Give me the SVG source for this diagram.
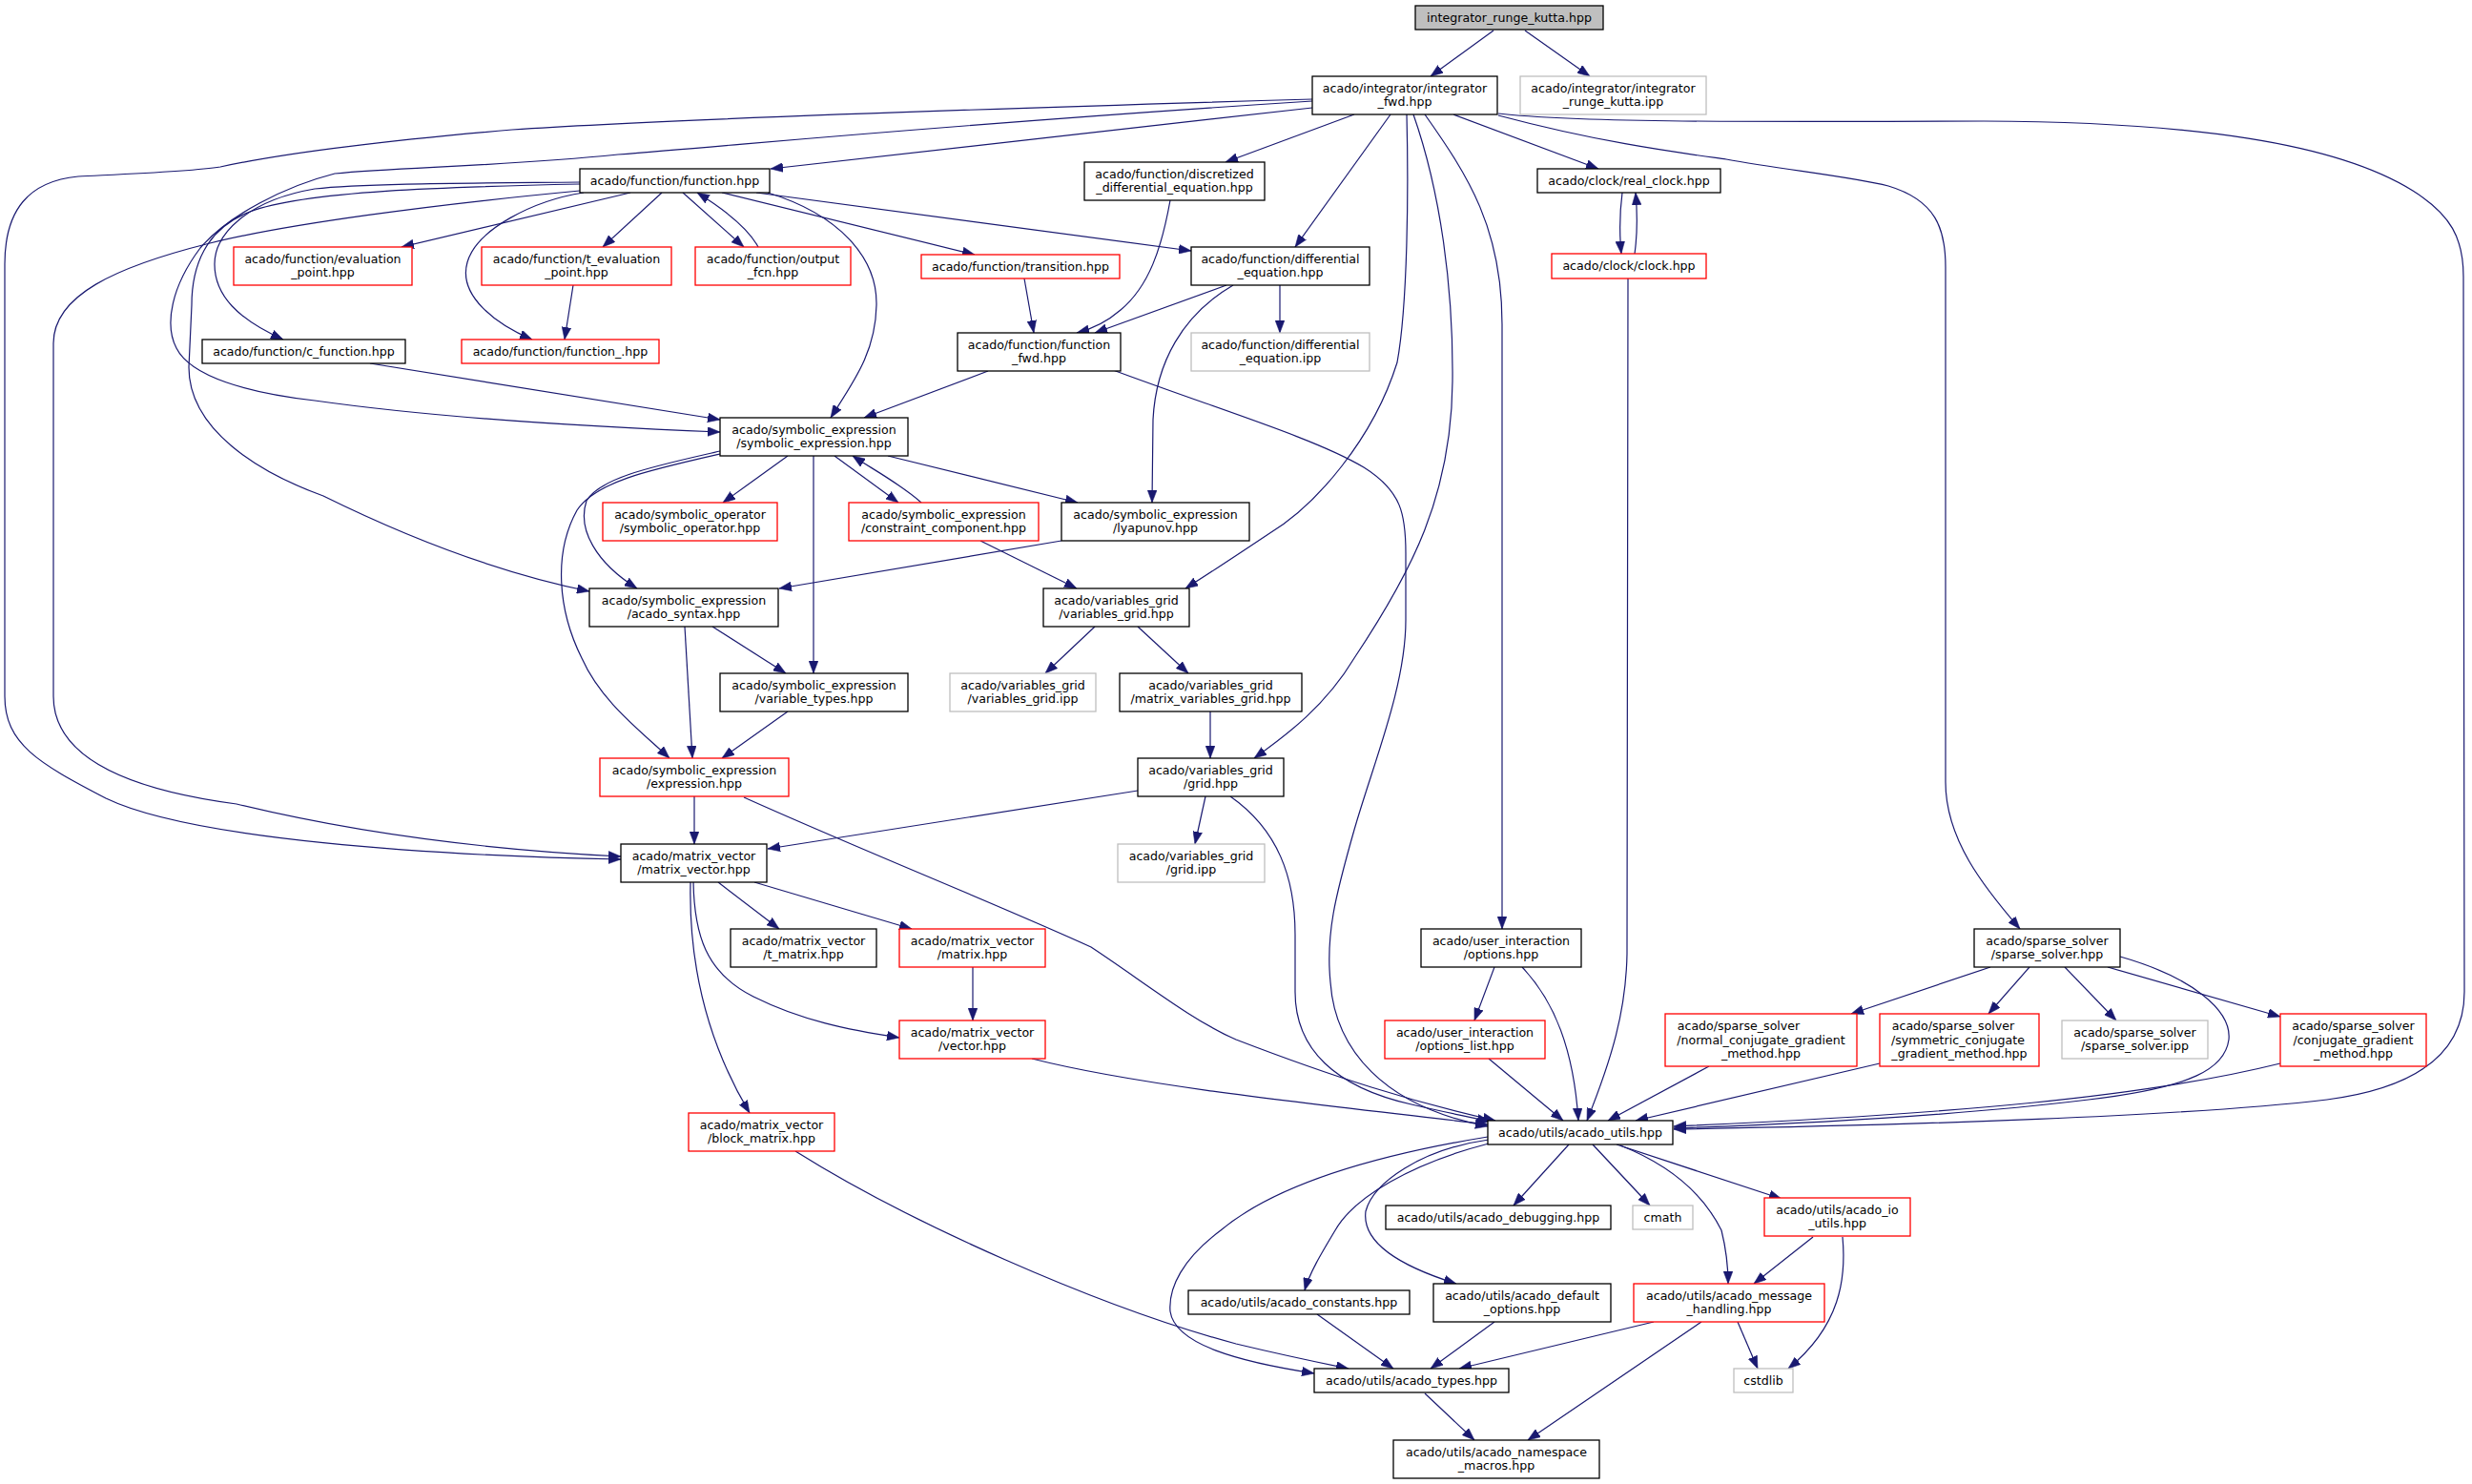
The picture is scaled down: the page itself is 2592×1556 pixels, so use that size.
<svg xmlns="http://www.w3.org/2000/svg" width="2592" height="1556" viewBox="0 0 2592 1556">
<style>
.node rect{fill:#fff;stroke:#000;stroke-width:1.3}
.node.red rect{stroke:#ff0000}
.node.gray rect{stroke:#bfbfbf}
.node.root rect{fill:#bfbfbf}
.node text{font-family:"DejaVu Sans",sans-serif;font-size:12.6px;fill:#000;text-anchor:middle}
#edges path{fill:none;stroke:#191970;stroke-width:1.2;marker-end:url(#ah)}
</style>
<defs>
<marker id="ah" markerUnits="userSpaceOnUse" markerWidth="13" markerHeight="10" viewBox="0 0 12 9" refX="12" refY="4.5" orient="auto">
<path d="M0,0 L12,4.5 L0,9 z" fill="#191970" stroke="#191970" stroke-width="0.5"/>
</marker>
</defs>
<rect width="2592" height="1556" fill="#fff"/>
<g id="edges">
<path d="M1566,32 L1500,80"/>
<path d="M1599,32 L1667,80"/>
<path d="M1376,113 L808,177"/>
<path d="M1376,104 C1000,115 700,125 537,136 C420,146 300,160 231,175 C200,180 120,183 82,185 C30,190 5,220 5,277 L5,730 C5,780 40,800 111,837 C200,880 450,897 651,901"/>
<path d="M1376,106 C1000,130 800,150 648,162 C520,175 420,175 351,182 C300,195 240,225 210,260 C180,300 172,340 185,365 C200,395 260,412 330,420 C450,437 600,447 755,453"/>
<path d="M608,191 C500,192 380,192 330,198 C260,210 225,245 225,277 C225,310 250,335 297,356"/>
<path d="M608,193 C470,196 320,200 262,222 C215,240 201,280 201,320 L198,385 C198,450 270,495 339,520 C420,560 520,600 618,620"/>
<path d="M608,200 C450,215 300,235 220,255 C120,280 56,310 56,360 L56,730 C56,800 150,830 248,843 C400,880 550,893 651,898"/>
<path d="M661,202 L421,259"/>
<path d="M694,202 L632,259"/>
<path d="M612,202 C560,210 500,240 490,275 C480,310 520,340 558,356"/>
<path d="M601,299 L592,356"/>
<path d="M388,381 L755,440"/>
<path d="M805,202 C880,225 920,270 919,320 C918,370 895,400 871,438"/>
<path d="M716,202 L780,259"/>
<path d="M795,259 C785,240 760,220 731,202"/>
<path d="M757,202 L1022,267"/>
<path d="M793,202 L1249,263"/>
<path d="M1420,120 L1285,170"/>
<path d="M1458,120 L1358,259"/>
<path d="M1524,120 L1676,177"/>
<path d="M1571,121 C1680,150 1760,160 1810,167 C1870,178 1940,185 1980,195 C2030,210 2040,240 2040,280 L2040,820 C2040,880 2080,930 2118,974"/>
<path d="M1571,119 C1650,128 1800,128 2080,127 C2300,128 2450,150 2530,200 C2570,225 2583,250 2583,290 L2584,1040 C2584,1100 2540,1140 2440,1153 C2300,1170 2000,1180 1755,1184"/>
<path d="M1475,120 C1477,200 1476,320 1465,380 C1440,460 1380,530 1330,560 C1300,580 1270,600 1243,617"/>
<path d="M1482,120 C1510,200 1524,300 1523,400 C1522,520 1480,600 1420,690 C1390,740 1350,770 1315,795"/>
<path d="M1494,120 C1540,185 1575,240 1575,340 L1575,974"/>
<path d="M1701,202 C1698,225 1698,245 1700,266"/>
<path d="M1714,266 C1717,245 1717,225 1715,202"/>
<path d="M1707,292 L1706,1000 C1705,1060 1690,1110 1664,1175"/>
<path d="M1227,210 C1218,260 1205,300 1175,325 C1160,338 1145,345 1129,349"/>
<path d="M1286,299 L1148,349"/>
<path d="M1074,292 L1084,349"/>
<path d="M1293,299 C1240,330 1212,380 1209,440 L1208,527"/>
<path d="M1342,299 L1342,349"/>
<path d="M1036,389 L906,438"/>
<path d="M1167,388 C1280,430 1380,460 1430,490 C1470,515 1474,540 1474,580 L1474,650 C1474,720 1440,800 1420,870 C1400,940 1390,980 1395,1030 C1400,1100 1450,1160 1560,1181"/>
<path d="M826,478 L758,527"/>
<path d="M853,478 L853,706"/>
<path d="M875,478 L942,527"/>
<path d="M966,527 C945,508 915,492 894,478"/>
<path d="M931,478 L1130,527"/>
<path d="M755,473 C690,488 630,500 615,525 C605,555 625,590 668,617"/>
<path d="M755,476 C680,493 625,505 605,535 C580,580 585,640 610,690 C630,735 670,765 702,795"/>
<path d="M747,657 L824,706"/>
<path d="M718,657 L726,795"/>
<path d="M826,746 L757,795"/>
<path d="M1113,567 L817,617"/>
<path d="M1028,567 L1129,617"/>
<path d="M1148,657 L1096,706"/>
<path d="M1193,657 L1246,706"/>
<path d="M1269,746 L1269,795"/>
<path d="M1264,835 L1253,885"/>
<path d="M1193,829 L805,890"/>
<path d="M728,835 L728,885"/>
<path d="M780,836 C900,890 1050,950 1144,993 C1200,1030 1250,1070 1296,1090 C1400,1130 1480,1155 1568,1175"/>
<path d="M1290,835 C1340,870 1358,920 1358,980 L1358,1040 C1358,1100 1400,1140 1480,1158 C1510,1165 1535,1170 1562,1176"/>
<path d="M753,925 L817,974"/>
<path d="M791,925 L956,974"/>
<path d="M1020,1014 L1020,1070"/>
<path d="M727,925 C728,980 740,1020 790,1045 C840,1070 890,1080 943,1088"/>
<path d="M724,925 C722,1010 740,1090 786,1167"/>
<path d="M1082,1110 C1200,1140 1400,1160 1560,1179"/>
<path d="M834,1207 C950,1280 1150,1370 1296,1409 C1350,1422 1380,1428 1414,1435"/>
<path d="M1567,1014 L1546,1070"/>
<path d="M1596,1014 C1630,1050 1650,1100 1655,1175"/>
<path d="M1561,1110 L1639,1175"/>
<path d="M1792,1118 L1686,1175"/>
<path d="M1971,1115 L1715,1175"/>
<path d="M2391,1115 C2250,1150 2050,1168 1755,1181"/>
<path d="M2223,1003 C2300,1025 2340,1060 2337,1090 C2333,1120 2300,1140 2190,1153 C2050,1170 1900,1178 1755,1183"/>
<path d="M2087,1014 L1941,1063"/>
<path d="M2128,1014 L2085,1063"/>
<path d="M2165,1014 L2219,1070"/>
<path d="M2210,1014 L2391,1066"/>
<path d="M1560,1192 C1450,1210 1340,1240 1280,1290 C1240,1320 1225,1350 1227,1375 C1232,1410 1300,1428 1378,1440"/>
<path d="M1561,1199 C1480,1220 1420,1255 1400,1290 C1385,1315 1373,1335 1368,1353"/>
<path d="M1561,1195 C1490,1205 1440,1240 1432,1270 C1428,1300 1460,1325 1527,1346"/>
<path d="M1645,1200 L1587,1264"/>
<path d="M1670,1200 L1730,1264"/>
<path d="M1695,1200 L1868,1257"/>
<path d="M1699,1201 C1760,1225 1790,1260 1805,1290 C1810,1310 1812,1330 1812,1346"/>
<path d="M1901,1297 L1839,1346"/>
<path d="M1932,1297 C1936,1340 1930,1390 1875,1435"/>
<path d="M1822,1386 L1843,1435"/>
<path d="M1734,1386 L1530,1435"/>
<path d="M1784,1386 L1602,1510"/>
<path d="M1381,1378 L1461,1435"/>
<path d="M1567,1386 L1500,1435"/>
<path d="M1494,1461 L1546,1510"/>
</g>
<g id="n_irk" class="node root"><rect x="1484" y="6" width="197" height="25"/><text x="1582.5" y="22.7">integrator_runge_kutta.hpp</text></g>
<g id="n_ifwd" class="node"><rect x="1376" y="80" width="194" height="40"/><text><tspan x="1473" y="97">acado/integrator/integrator</tspan><tspan x="1473" y="111.2">_fwd.hpp</tspan></text></g>
<g id="n_irkipp" class="node gray"><rect x="1594" y="80" width="195" height="40"/><text><tspan x="1691.5" y="97">acado/integrator/integrator</tspan><tspan x="1691.5" y="111.2">_runge_kutta.ipp</tspan></text></g>
<g id="n_func" class="node"><rect x="608" y="177" width="199" height="25"/><text x="707.5" y="193.7">acado/function/function.hpp</text></g>
<g id="n_disc" class="node"><rect x="1137" y="170" width="189" height="40"/><text><tspan x="1231.5" y="187">acado/function/discretized</tspan><tspan x="1231.5" y="201.2">_differential_equation.hpp</tspan></text></g>
<g id="n_rclock" class="node"><rect x="1612" y="177" width="192" height="25"/><text x="1708" y="193.7">acado/clock/real_clock.hpp</text></g>
<g id="n_evalpt" class="node red"><rect x="245" y="259" width="187" height="40"/><text><tspan x="338.5" y="276">acado/function/evaluation</tspan><tspan x="338.5" y="290.2">_point.hpp</tspan></text></g>
<g id="n_tevalpt" class="node red"><rect x="505" y="259" width="199" height="40"/><text><tspan x="604.5" y="276">acado/function/t_evaluation</tspan><tspan x="604.5" y="290.2">_point.hpp</tspan></text></g>
<g id="n_outfcn" class="node red"><rect x="729" y="259" width="163" height="40"/><text><tspan x="810.5" y="276">acado/function/output</tspan><tspan x="810.5" y="290.2">_fcn.hpp</tspan></text></g>
<g id="n_trans" class="node red"><rect x="966" y="267" width="208" height="25"/><text x="1070" y="283.7">acado/function/transition.hpp</text></g>
<g id="n_diffeq" class="node"><rect x="1249" y="259" width="187" height="40"/><text><tspan x="1342.5" y="276">acado/function/differential</tspan><tspan x="1342.5" y="290.2">_equation.hpp</tspan></text></g>
<g id="n_clock" class="node red"><rect x="1627" y="266" width="162" height="26"/><text x="1708" y="283.2">acado/clock/clock.hpp</text></g>
<g id="n_cfunc" class="node"><rect x="212" y="356" width="213" height="25"/><text x="318.5" y="372.7">acado/function/c_function.hpp</text></g>
<g id="n_func_" class="node red"><rect x="484" y="356" width="207" height="25"/><text x="587.5" y="372.7">acado/function/function_.hpp</text></g>
<g id="n_ffwd" class="node"><rect x="1004" y="349" width="171" height="40"/><text><tspan x="1089.5" y="366">acado/function/function</tspan><tspan x="1089.5" y="380.2">_fwd.hpp</tspan></text></g>
<g id="n_diffipp" class="node gray"><rect x="1249" y="349" width="187" height="40"/><text><tspan x="1342.5" y="366">acado/function/differential</tspan><tspan x="1342.5" y="380.2">_equation.ipp</tspan></text></g>
<g id="n_symexpr" class="node"><rect x="755" y="438" width="197" height="40"/><text><tspan x="853.5" y="455">acado/symbolic_expression</tspan><tspan x="853.5" y="469.2">/symbolic_expression.hpp</tspan></text></g>
<g id="n_symop" class="node red"><rect x="632" y="527" width="183" height="40"/><text><tspan x="723.5" y="544">acado/symbolic_operator</tspan><tspan x="723.5" y="558.2">/symbolic_operator.hpp</tspan></text></g>
<g id="n_constr" class="node red"><rect x="890" y="527" width="199" height="40"/><text><tspan x="989.5" y="544">acado/symbolic_expression</tspan><tspan x="989.5" y="558.2">/constraint_component.hpp</tspan></text></g>
<g id="n_lyap" class="node"><rect x="1113" y="527" width="197" height="40"/><text><tspan x="1211.5" y="544">acado/symbolic_expression</tspan><tspan x="1211.5" y="558.2">/lyapunov.hpp</tspan></text></g>
<g id="n_syntax" class="node"><rect x="618" y="617" width="198" height="40"/><text><tspan x="717" y="634">acado/symbolic_expression</tspan><tspan x="717" y="648.2">/acado_syntax.hpp</tspan></text></g>
<g id="n_vgrid" class="node"><rect x="1094" y="617" width="153" height="40"/><text><tspan x="1170.5" y="634">acado/variables_grid</tspan><tspan x="1170.5" y="648.2">/variables_grid.hpp</tspan></text></g>
<g id="n_vtypes" class="node"><rect x="755" y="706" width="197" height="40"/><text><tspan x="853.5" y="723">acado/symbolic_expression</tspan><tspan x="853.5" y="737.2">/variable_types.hpp</tspan></text></g>
<g id="n_vgridipp" class="node gray"><rect x="996" y="706" width="153" height="40"/><text><tspan x="1072.5" y="723">acado/variables_grid</tspan><tspan x="1072.5" y="737.2">/variables_grid.ipp</tspan></text></g>
<g id="n_mvgrid" class="node"><rect x="1174" y="706" width="191" height="40"/><text><tspan x="1269.5" y="723">acado/variables_grid</tspan><tspan x="1269.5" y="737.2">/matrix_variables_grid.hpp</tspan></text></g>
<g id="n_expr" class="node red"><rect x="629" y="795" width="198" height="40"/><text><tspan x="728" y="812">acado/symbolic_expression</tspan><tspan x="728" y="826.2">/expression.hpp</tspan></text></g>
<g id="n_grid" class="node"><rect x="1193" y="795" width="153" height="40"/><text><tspan x="1269.5" y="812">acado/variables_grid</tspan><tspan x="1269.5" y="826.2">/grid.hpp</tspan></text></g>
<g id="n_mv" class="node"><rect x="651" y="885" width="153" height="40"/><text><tspan x="727.5" y="902">acado/matrix_vector</tspan><tspan x="727.5" y="916.2">/matrix_vector.hpp</tspan></text></g>
<g id="n_gridipp" class="node gray"><rect x="1172" y="885" width="154" height="40"/><text><tspan x="1249" y="902">acado/variables_grid</tspan><tspan x="1249" y="916.2">/grid.ipp</tspan></text></g>
<g id="n_tmat" class="node"><rect x="766" y="974" width="153" height="40"/><text><tspan x="842.5" y="991">acado/matrix_vector</tspan><tspan x="842.5" y="1005.2">/t_matrix.hpp</tspan></text></g>
<g id="n_mat" class="node red"><rect x="943" y="974" width="153" height="40"/><text><tspan x="1019.5" y="991">acado/matrix_vector</tspan><tspan x="1019.5" y="1005.2">/matrix.hpp</tspan></text></g>
<g id="n_opts" class="node"><rect x="1490" y="974" width="168" height="40"/><text><tspan x="1574" y="991">acado/user_interaction</tspan><tspan x="1574" y="1005.2">/options.hpp</tspan></text></g>
<g id="n_ss" class="node"><rect x="2070" y="974" width="153" height="40"/><text><tspan x="2146.5" y="991">acado/sparse_solver</tspan><tspan x="2146.5" y="1005.2">/sparse_solver.hpp</tspan></text></g>
<g id="n_vec" class="node red"><rect x="943" y="1070" width="153" height="40"/><text><tspan x="1019.5" y="1087">acado/matrix_vector</tspan><tspan x="1019.5" y="1101.2">/vector.hpp</tspan></text></g>
<g id="n_optlist" class="node red"><rect x="1452" y="1070" width="168" height="40"/><text><tspan x="1536" y="1087">acado/user_interaction</tspan><tspan x="1536" y="1101.2">/options_list.hpp</tspan></text></g>
<g id="n_ncg" class="node red"><rect x="1746" y="1063" width="201" height="55"/><text><tspan x="1823" y="1080">acado/sparse_solver</tspan><tspan x="1846.5" y="1094.5">/normal_conjugate_gradient</tspan><tspan x="1846.5" y="1109">_method.hpp</tspan></text></g>
<g id="n_scg" class="node red"><rect x="1971" y="1063" width="167" height="55"/><text><tspan x="2048" y="1080">acado/sparse_solver</tspan><tspan x="2053" y="1094.5">/symmetric_conjugate</tspan><tspan x="2054.5" y="1109">_gradient_method.hpp</tspan></text></g>
<g id="n_ssipp" class="node gray"><rect x="2162" y="1070" width="153" height="40"/><text><tspan x="2238.5" y="1087">acado/sparse_solver</tspan><tspan x="2238.5" y="1101.2">/sparse_solver.ipp</tspan></text></g>
<g id="n_cg" class="node red"><rect x="2391" y="1063" width="153" height="55"/><text><tspan x="2467.5" y="1080">acado/sparse_solver</tspan><tspan x="2467.5" y="1094.5">/conjugate_gradient</tspan><tspan x="2467.5" y="1109">_method.hpp</tspan></text></g>
<g id="n_blk" class="node red"><rect x="722" y="1167" width="153" height="40"/><text><tspan x="798.5" y="1184">acado/matrix_vector</tspan><tspan x="798.5" y="1198.2">/block_matrix.hpp</tspan></text></g>
<g id="n_utils" class="node"><rect x="1560" y="1175" width="194" height="25"/><text x="1657" y="1191.7">acado/utils/acado_utils.hpp</text></g>
<g id="n_debug" class="node"><rect x="1453" y="1264" width="236" height="25"/><text x="1571" y="1280.7">acado/utils/acado_debugging.hpp</text></g>
<g id="n_cmath" class="node gray"><rect x="1712" y="1264" width="63" height="25"/><text x="1743.5" y="1280.7">cmath</text></g>
<g id="n_io" class="node red"><rect x="1850" y="1256" width="153" height="40"/><text><tspan x="1926.5" y="1273">acado/utils/acado_io</tspan><tspan x="1926.5" y="1287.2">_utils.hpp</tspan></text></g>
<g id="n_const" class="node"><rect x="1246" y="1353" width="232" height="25"/><text x="1362" y="1369.7">acado/utils/acado_constants.hpp</text></g>
<g id="n_defopt" class="node"><rect x="1503" y="1346" width="186" height="40"/><text><tspan x="1596" y="1363">acado/utils/acado_default</tspan><tspan x="1596" y="1377.2">_options.hpp</tspan></text></g>
<g id="n_msg" class="node red"><rect x="1713" y="1346" width="200" height="40"/><text><tspan x="1813" y="1363">acado/utils/acado_message</tspan><tspan x="1813" y="1377.2">_handling.hpp</tspan></text></g>
<g id="n_types" class="node"><rect x="1378" y="1435" width="204" height="25"/><text x="1480" y="1451.7">acado/utils/acado_types.hpp</text></g>
<g id="n_cstdlib" class="node gray"><rect x="1818" y="1435" width="62" height="25"/><text x="1849" y="1451.7">cstdlib</text></g>
<g id="n_ns" class="node"><rect x="1461" y="1510" width="216" height="40"/><text><tspan x="1569" y="1527">acado/utils/acado_namespace</tspan><tspan x="1569" y="1541.2">_macros.hpp</tspan></text></g>
</svg>
